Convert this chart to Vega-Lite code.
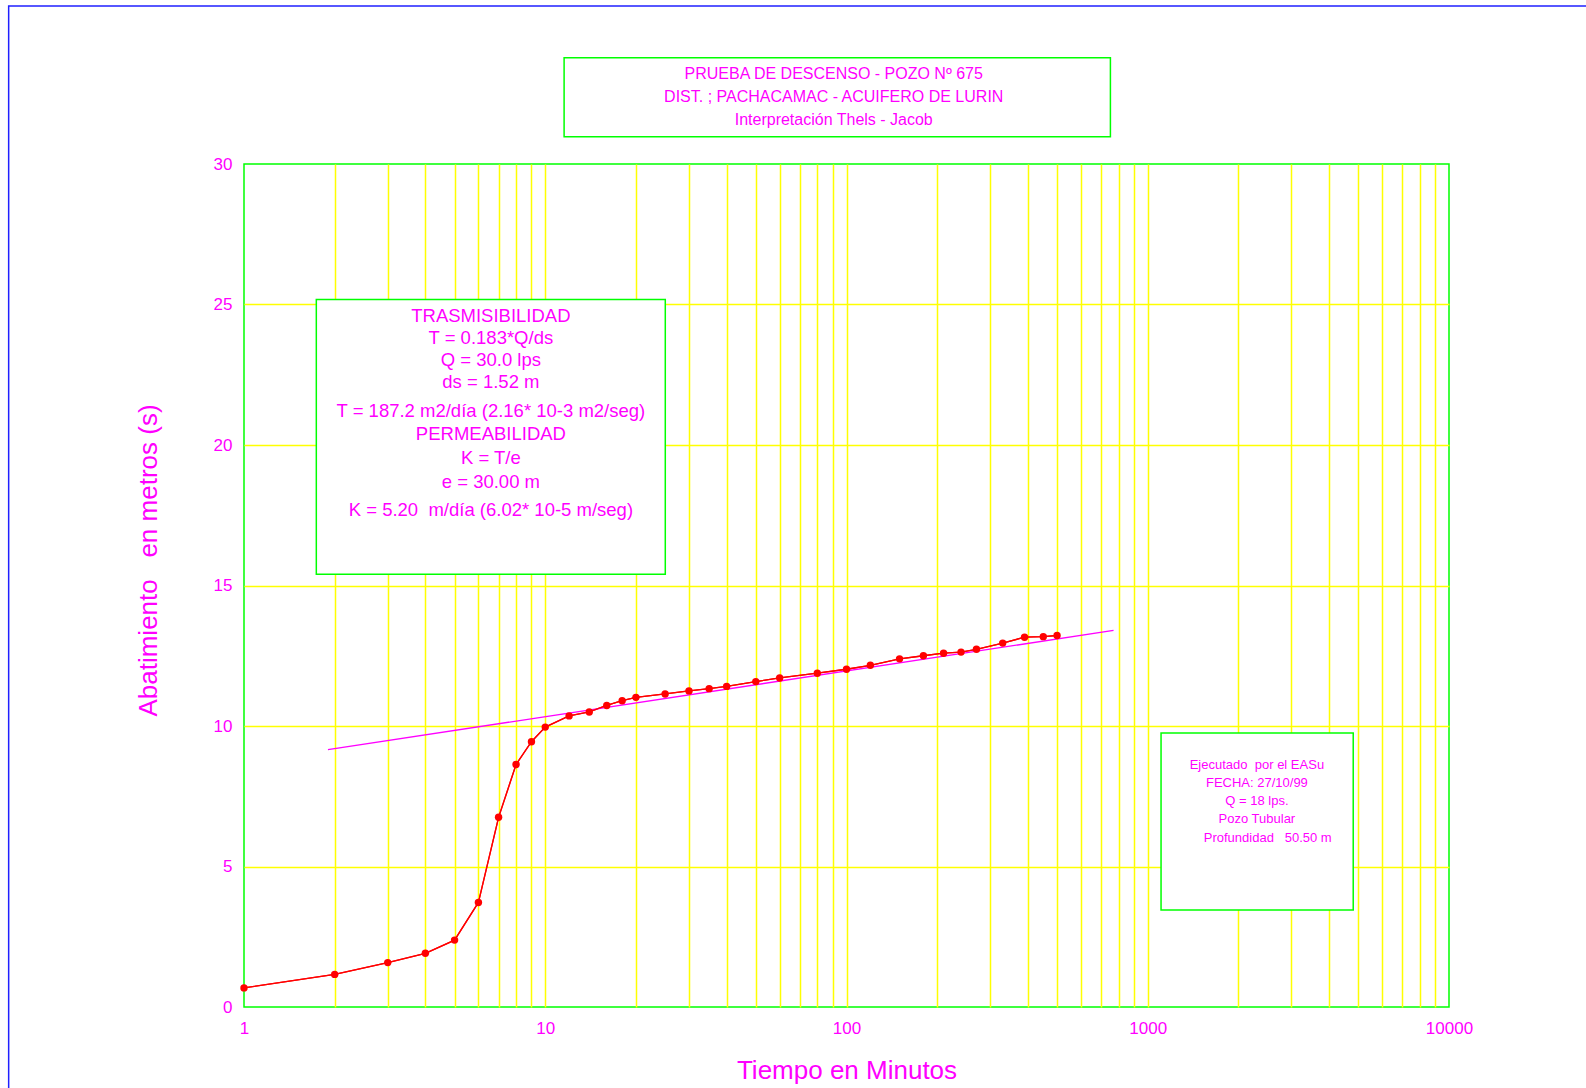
{
  "$schema": "https://vega.github.io/schema/vega-lite/v6.json",
  "width": 1205,
  "height": 843,
  "autosize": {"type": "none"},
  "padding": {"left": 244, "top": 164, "right": 137, "bottom": 81},
  "background": "white",
  "config": {
    "font": "Liberation Sans",
    "view": {"stroke": "#00FF00", "strokeWidth": 1.5}
  },
  "datasets": {
    "obs": [
      {"t": 1, "s": 0.68}, {"t": 2, "s": 1.16}, {"t": 3, "s": 1.58}, {"t": 4, "s": 1.91},
      {"t": 5, "s": 2.38}, {"t": 6, "s": 3.72}, {"t": 7, "s": 6.75}, {"t": 8, "s": 8.63},
      {"t": 9, "s": 9.44}, {"t": 10, "s": 9.96}, {"t": 12, "s": 10.36}, {"t": 14, "s": 10.5},
      {"t": 16, "s": 10.73}, {"t": 18, "s": 10.9}, {"t": 20, "s": 11.02}, {"t": 25, "s": 11.14},
      {"t": 30, "s": 11.25}, {"t": 35, "s": 11.33}, {"t": 40, "s": 11.41}, {"t": 50, "s": 11.58},
      {"t": 60, "s": 11.71}, {"t": 80, "s": 11.88}, {"t": 100, "s": 12.02}, {"t": 120, "s": 12.16},
      {"t": 150, "s": 12.39}, {"t": 180, "s": 12.5}, {"t": 210, "s": 12.59}, {"t": 240, "s": 12.63},
      {"t": 270, "s": 12.73}, {"t": 330, "s": 12.95}, {"t": 390, "s": 13.16}, {"t": 450, "s": 13.18},
      {"t": 500, "s": 13.22}
    ],
    "fit": [{"t": 1.9, "s": 9.16}, {"t": 770, "s": 13.4}],
    "one": [{}]
  },
  "layer": [
    {
      "data": {"name": "obs"},
      "mark": {"type": "line", "color": "#FF0000", "strokeWidth": 1.3},
      "encoding": {
        "x": {
          "field": "t", "type": "quantitative",
          "scale": {"type": "log", "domain": [1, 10000]},
          "axis": {
            "values": [1, 2, 3, 4, 5, 6, 7, 8, 9, 10, 20, 30, 40, 50, 60, 70, 80, 90, 100, 200, 300, 400, 500, 600, 700, 800, 900, 1000, 2000, 3000, 4000, 5000, 6000, 7000, 8000, 9000, 10000],
            "grid": true,
            "gridColor": "#FFFF00",
            "gridWidth": 1.5,
            "gridOpacity": {"condition": {"test": "datum.value == 1 || datum.value == 10000", "value": 0}, "value": 1},
            "domain": false,
            "ticks": false,
            "labelExpr": "indexof([1, 10, 100, 1000, 10000], datum.value) >= 0 ? '' + datum.value : ''",
            "labelOverlap": false,
            "labelFlush": false,
            "labelFontSize": 17,
            "labelColor": "#FF00FF",
            "labelPadding": 13,
            "title": "Tiempo en Minutos",
            "titleFontSize": 26,
            "titleFontWeight": "normal",
            "titleColor": "#FF00FF",
            "titleY": 63,
            "titleBaseline": "middle"
          }
        },
        "y": {
          "field": "s", "type": "quantitative",
          "scale": {"domain": [0, 30]},
          "axis": {
            "values": [0, 5, 10, 15, 20, 25, 30],
            "grid": true,
            "gridColor": "#FFFF00",
            "gridWidth": 1.5,
            "gridOpacity": {"condition": {"test": "datum.value == 0 || datum.value == 30", "value": 0}, "value": 1},
            "domain": false,
            "ticks": false,
            "labelFontSize": 17,
            "labelColor": "#FF00FF",
            "labelPadding": 12,
            "title": "Abatimiento\u00a0\u00a0\u00a0en metros (s)",
            "titleFontSize": 26,
            "titleFontWeight": "normal",
            "titleColor": "#FF00FF",
            "titleAngle": 270,
            "titleAlign": "center",
            "titleBaseline": "middle",
            "titleX": -96,
            "titleY": 396
          }
        }
      }
    },
    {
      "data": {"name": "one"},
      "mark": {"type": "rect", "fill": null, "fillOpacity": 0, "stroke": "#2020FF", "strokeWidth": 1.5},
      "encoding": {
        "x": {"datum": 0.1655, "type": "quantitative"},
        "x2": {"datum": 1000000},
        "y": {"datum": 35.62, "type": "quantitative"},
        "y2": {"datum": -5}
      }
    },
    {
      "data": {"name": "fit"},
      "mark": {"type": "line", "color": "#FF00FF", "strokeWidth": 1.3},
      "encoding": {
        "x": {"field": "t", "type": "quantitative"},
        "y": {"field": "s", "type": "quantitative"}
      }
    },
    {
      "data": {"name": "obs"},
      "mark": {"type": "line", "color": "#FF0000", "strokeWidth": 1.3},
      "encoding": {
        "x": {"field": "t", "type": "quantitative"},
        "y": {"field": "s", "type": "quantitative"}
      }
    },
    {
      "data": {"name": "obs"},
      "mark": {"type": "point", "filled": true, "color": "#FF0000", "opacity": 1, "size": 55},
      "encoding": {
        "x": {"field": "t", "type": "quantitative"},
        "y": {"field": "s", "type": "quantitative"}
      }
    },
    {
      "data": {"name": "one"},
      "mark": {"type": "rect", "fill": "white", "stroke": "#00FF00", "strokeWidth": 1.5},
      "encoding": {
        "x": {"datum": 11.55, "type": "quantitative"},
        "x2": {"datum": 751.7},
        "y": {"datum": 30.97, "type": "quantitative"},
        "y2": {"datum": 33.78}
      }
    },
    {
      "data": {"name": "one"},
      "mark": {"type": "text", "align": "center", "baseline": "top", "fontSize": 16, "lineHeight": 23, "color": "#FF00FF"},
      "encoding": {
        "x": {"datum": 90.7, "type": "quantitative"},
        "y": {"datum": 33.48, "type": "quantitative"},
        "text": {"value": ["PRUEBA DE DESCENSO - POZO Nº 675", "DIST. ; PACHACAMAC - ACUIFERO DE LURIN", "Interpretación Thels - Jacob"]}
      }
    },
    {
      "data": {"name": "one"},
      "mark": {"type": "rect", "fill": "white", "stroke": "#00FF00", "strokeWidth": 1.5},
      "encoding": {
        "x": {"datum": 1.738, "type": "quantitative"},
        "x2": {"datum": 25.03},
        "y": {"datum": 15.4, "type": "quantitative"},
        "y2": {"datum": 25.18}
      }
    },
    {
      "data": {"name": "one"},
      "mark": {"type": "text", "align": "center", "baseline": "top", "fontSize": 18.5, "lineHeight": 22.2, "color": "#FF00FF"},
      "encoding": {
        "x": {"datum": 6.6, "type": "quantitative"},
        "y": {"datum": 24.92, "type": "quantitative"},
        "text": {"value": ["TRASMISIBILIDAD", "T = 0.183*Q/ds", "Q = 30.0 lps", "ds = 1.52 m"]}
      }
    },
    {
      "data": {"name": "one"},
      "mark": {"type": "text", "align": "center", "baseline": "top", "fontSize": 18.5, "lineHeight": 23.6, "color": "#FF00FF"},
      "encoding": {
        "x": {"datum": 6.6, "type": "quantitative"},
        "y": {"datum": 21.54, "type": "quantitative"},
        "text": {"value": ["T = 187.2 m2/día (2.16* 10-3 m2/seg)", "PERMEABILIDAD", "K = T/e", "e = 30.00 m"]}
      }
    },
    {
      "data": {"name": "one"},
      "mark": {"type": "text", "align": "center", "baseline": "top", "fontSize": 18.5, "color": "#FF00FF"},
      "encoding": {
        "x": {"datum": 6.6, "type": "quantitative"},
        "y": {"datum": 18.01, "type": "quantitative"},
        "text": {"value": "K = 5.20\u00a0\u00a0m/día (6.02* 10-5 m/seg)"}
      }
    },
    {
      "data": {"name": "one"},
      "mark": {"type": "rect", "fill": "white", "stroke": "#00FF00", "strokeWidth": 1.5},
      "encoding": {
        "x": {"datum": 1107, "type": "quantitative"},
        "x2": {"datum": 4809},
        "y": {"datum": 3.45, "type": "quantitative"},
        "y2": {"datum": 9.75}
      }
    },
    {
      "data": {"name": "one"},
      "mark": {"type": "text", "align": "center", "baseline": "top", "fontSize": 13, "lineHeight": 18.2, "color": "#FF00FF"},
      "encoding": {
        "x": {"datum": 2303, "type": "quantitative"},
        "y": {"datum": 8.83, "type": "quantitative"},
        "text": {"value": ["Ejecutado\u00a0\u00a0por el EASu", "FECHA: 27/10/99", "Q = 18 lps.", "Pozo Tubular"]}
      }
    },
    {
      "data": {"name": "one"},
      "mark": {"type": "text", "align": "center", "baseline": "top", "fontSize": 13, "color": "#FF00FF"},
      "encoding": {
        "x": {"datum": 2502, "type": "quantitative"},
        "y": {"datum": 6.24, "type": "quantitative"},
        "text": {"value": "Profundidad\u00a0\u00a0\u00a050.50 m"}
      }
    }
  ]
}
